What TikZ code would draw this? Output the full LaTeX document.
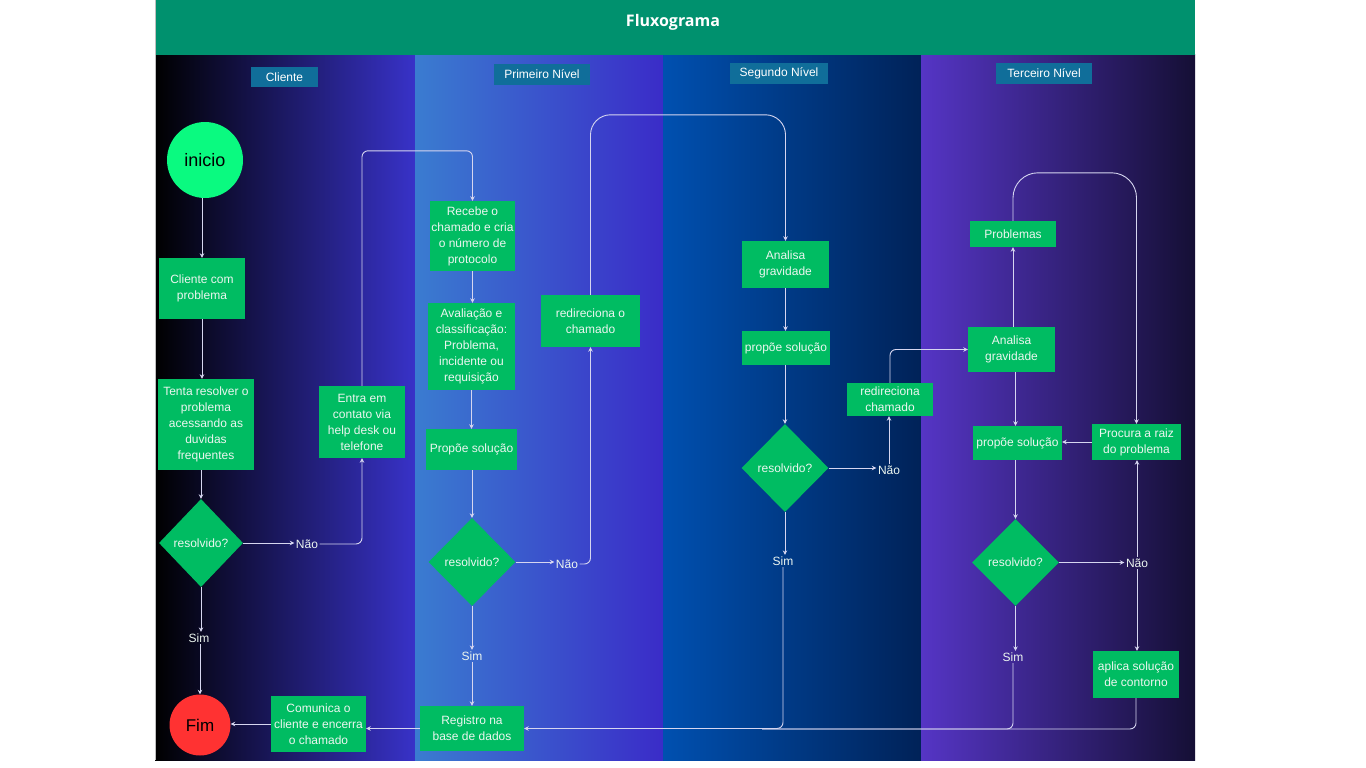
\documentclass[tikz,border=0pt]{standalone}
\usepackage{fontspec}
\setmainfont{Liberation Sans}
\newfontfamily\titlefont{Open Sans}
\usetikzlibrary{shapes.geometric,arrows.meta}

\definecolor{boxgreen}{RGB}{0,188,98}
\definecolor{boxtext}{RGB}{236,246,240}
\definecolor{startgreen}{RGB}{10,250,128}
\definecolor{endred}{RGB}{255,50,50}
\definecolor{header}{RGB}{0,145,110}
\definecolor{lanelab}{RGB}{16,110,154}
\definecolor{wire}{RGB}{214,214,240}

\tikzset{
  txt/.style={font=\fontsize{12}{16}\selectfont},
  box/.style={txt, fill=boxgreen, text=boxtext, align=center, inner sep=0pt},
  decision/.style={txt, diamond, fill=boxgreen, text=boxtext, inner sep=0pt},
  answer/.style={txt, text=boxtext, inner sep=1.5pt},
  lanetag/.style={txt, fill=lanelab, text=white, inner sep=0pt},
  flow/.style={draw=wire, line width=0.9pt, rounded corners=6,
               -{Stealth[length=4.5pt,width=4.5pt]}},
  plainwire/.style={draw=wire, line width=0.9pt, rounded corners=6}
}

\begin{document}
\begin{tikzpicture}[x=1pt,y=-1pt]
\useasboundingbox (0,0) rectangle (1366,768);
\fill[white] (0,0) rectangle (1366,768);

% swim lanes
\shade[left color=black, right color={rgb,255:red,56;green,50;blue,200}] (155,55) rectangle (415,760);
\shade[left color={rgb,255:red,58;green,124;blue,208}, right color={rgb,255:red,58;green,44;blue,200}] (415,55) rectangle (663,760);
\shade[left color={rgb,255:red,0;green,80;blue,176}, right color={rgb,255:red,0;green,34;blue,88}] (663,55) rectangle (921,760);
\shade[left color={rgb,255:red,85;green,53;blue,197}, right color={rgb,255:red,21;green,15;blue,53}] (921,55) rectangle (1195,760);

% title bar
\fill[header] (155,0) rectangle (1195,55);
\draw[black!25, line width=0.6pt] (155,0) -- (155,760);
\node[text=white, font=\titlefont\bfseries\fontsize{16}{18}\selectfont] (title) at (673,22) {Fluxograma};

% lane captions
\node[lanetag, minimum width=67, minimum height=20] (lane1) at (284.5,77) {Cliente};
\node[lanetag, minimum width=96, minimum height=21] (lane2) at (542,74.5) {Primeiro Nível};
\node[lanetag, minimum width=98, minimum height=21] (lane3) at (779,73.5) {Segundo Nível};
\node[lanetag, minimum width=96, minimum height=21] (lane4) at (1044,73.5) {Terceiro Nível};

% Cliente
\node[circle, fill=startgreen, minimum size=76, inner sep=0pt, font=\fontsize{18}{20}\selectfont] (inicio) at (205,160) {inicio};
\node[box, minimum width=86, minimum height=61] (c1) at (202,288.5) {Cliente com\\problema};
\node[box, minimum width=96, minimum height=91] (c2) at (206,424.5) {Tenta resolver o\\problema\\acessando as\\duvidas\\frequentes};
\node[decision, minimum width=84, minimum height=88] (d1) at (201,543) {resolvido?};
\node[answer] (nao1) at (307,544) {Não};
\node[box, minimum width=86, minimum height=72] (entra) at (362,422) {Entra em\\contato via\\help desk ou\\telefone};
\node[answer] (sim1) at (199,638) {Sim};
\node[circle, fill=endred, minimum size=61, inner sep=0pt, font=\fontsize{17}{19}\selectfont] (fim) at (200,725) {Fim};
\node[box, minimum width=95, minimum height=56] (comunica) at (318.5,724) {Comunica o\\cliente e encerra\\o chamado};

% Primeiro Nivel
\node[box, minimum width=85, minimum height=70] (recebe) at (472.5,236) {Recebe o\\chamado e cria\\o número de\\protocolo};
\node[box, minimum width=87, minimum height=87] (aval) at (471.5,346.5) {Avaliação e\\classificação:\\Problema,\\incidente ou\\requisição};
\node[box, minimum width=91, minimum height=41] (prop1) at (471.5,449.5) {Propõe solução};
\node[decision, minimum width=87, minimum height=88] (d2) at (472,562) {resolvido?};
\node[answer] (nao2) at (567,564) {Não};
\node[answer] (sim2) at (472,656) {Sim};
\node[box, minimum width=99, minimum height=52] (redir1) at (590.5,321) {redireciona o\\chamado};
\node[box, minimum width=104, minimum height=45] (registro) at (472,728.5) {Registro na\\base de dados};

% Segundo Nivel
\node[box, minimum width=87, minimum height=47] (anal2) at (785.5,264.5) {Analisa\\gravidade};
\node[box, minimum width=88, minimum height=34] (prop2) at (786,348) {propõe solução};
\node[decision, minimum width=87, minimum height=88] (d3) at (785,468) {resolvido?};
\node[answer] (nao3) at (889,470) {Não};
\node[box, minimum width=86, minimum height=33] (redir2) at (890,399.5) {redireciona\\chamado};
\node[answer] (sim3) at (783,561) {Sim};

% Terceiro Nivel
\node[box, minimum width=86, minimum height=26] (probl) at (1013,234) {Problemas};
\node[box, minimum width=87, minimum height=45] (anal3) at (1011.5,349.5) {Analisa\\gravidade};
\node[box, minimum width=89, minimum height=34] (prop3) at (1017.5,443) {propõe solução};
\node[box, minimum width=89, minimum height=36] (procura) at (1136.5,442) {Procura a raiz\\do problema};
\node[decision, minimum width=87, minimum height=87] (d4) at (1015.5,562.5) {resolvido?};
\node[answer] (nao4) at (1137,563) {Não};
\node[answer] (sim4) at (1013,657) {Sim};
\node[box, minimum width=86, minimum height=47] (aplica) at (1136,674.5) {aplica solução\\de contorno};
\coordinate (joint) at (762,729);

% connectors: Cliente
\draw[flow] (inicio.south -| c1.north) -- (c1.north);
\draw[flow] (c1.south) -- (c1.south |- c2.north);
\draw[flow] (d1.north |- c2.south) -- (d1.north);
\draw[flow] (d1.east) -- (d1.east -| nao1.west);
\draw[flow] (nao1.east) -| (entra.south);
\draw[flow] (entra.north) |- ([yshift=50pt]recebe.north) -- (recebe.north);
\draw[flow] (d1.south) -- (d1.south |- sim1.north);
\draw[flow] (sim1.south -| fim.north) -- (fim.north);
\draw[flow] (comunica.west) -- (comunica.west -| fim.east);
\draw[flow] (registro.west) -- (registro.west -| comunica.east);

% connectors: Primeiro Nivel
\draw[flow] (recebe.south) -- (recebe.south |- aval.north);
\draw[flow] (aval.south) -- (aval.south |- prop1.north);
\draw[flow] (d2.north |- prop1.south) -- (d2.north);
\draw[flow] (d2.east) -- (d2.east -| nao2.west);
\draw[flow] (nao2.east) -| (redir1.south);
\draw[flow, rounded corners=20] (redir1.north) |- ([yshift=126pt]anal2.north) -- (anal2.north);
\draw[flow] (d2.south) -- (d2.south |- sim2.north);
\draw[flow] (sim2.south) -- (sim2.south |- registro.north);

% connectors: Segundo Nivel
\draw[flow] (anal2.south) -- (anal2.south |- prop2.north);
\draw[flow] (d3.north |- prop2.south) -- (d3.north);
\draw[flow] (d3.east) -- (d3.east -| nao3.west);
\draw[flow] (nao3.north) -- (nao3.north |- redir2.south);
\draw[flow] (redir2.north) |- (anal3.west);
\draw[flow] (d3.south) -- (d3.south |- sim3.north);
\draw[flow] (sim3.south) |- (registro.east);

% connectors: Terceiro Nivel
\draw[flow] (probl.south |- anal3.north) -- (probl.south);
\draw[flow] (d4.north |- anal3.south) -- (d4.north |- prop3.north);
\draw[flow] (d4.north |- prop3.south) -- (d4.north);
\draw[flow] (d4.east) -- (d4.east -| nao4.west);
\draw[flow] (nao4.north) -- (nao4.north |- procura.south);
\draw[flow] (nao4.south) -- (nao4.south |- aplica.north);
\draw[flow] (procura.west) -- (procura.west -| prop3.east);
\draw[flow, rounded corners=25] (probl.north) -- ([yshift=48pt]probl.north) -| (procura.north);
\draw[flow] (d4.south) -- (d4.south |- sim4.north);
\draw[plainwire] (sim4.south) |- (joint);
\draw[plainwire] (aplica.south) |- (joint);
\end{tikzpicture}
\end{document}
